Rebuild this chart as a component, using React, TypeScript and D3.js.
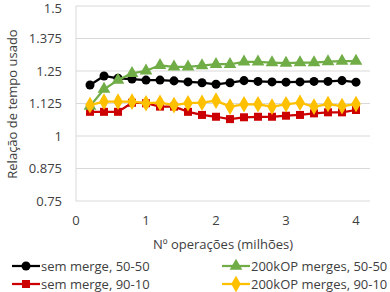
import React from 'react';
import * as d3 from 'd3';

const xs = [0.2, 0.4, 0.6, 0.8, 1.0, 1.2, 1.4, 1.6, 1.8, 2.0, 2.2, 2.4, 2.6, 2.8, 3.0, 3.2, 3.4, 3.6, 3.8, 4.0];
const semMerge5050 = [1.196, 1.231, 1.222, 1.219, 1.215, 1.215, 1.212, 1.208, 1.205, 1.199, 1.205, 1.213, 1.210, 1.208, 1.207, 1.208, 1.210, 1.210, 1.213, 1.207];
const semMerge9010 = [1.093, 1.093, 1.093, 1.128, 1.126, 1.113, 1.113, 1.093, 1.081, 1.074, 1.065, 1.072, 1.074, 1.074, 1.078, 1.081, 1.087, 1.091, 1.091, 1.100];
const merges5050 = [1.115, 1.180, 1.215, 1.241, 1.251, 1.272, 1.266, 1.266, 1.271, 1.276, 1.276, 1.285, 1.285, 1.282, 1.280, 1.282, 1.282, 1.286, 1.288, 1.288];
const merges9010 = [1.119, 1.132, 1.132, 1.132, 1.126, 1.128, 1.119, 1.126, 1.128, 1.136, 1.113, 1.122, 1.122, 1.113, 1.122, 1.128, 1.113, 1.123, 1.115, 1.123];
const yTicks = [0.75, 0.875, 1, 1.125, 1.25, 1.375, 1.5];
const xTicks = [0, 1, 2, 3, 4];

const series = [
  { name: 'sem merge, 50-50', values: semMerge5050, color: '#000000', marker: 'circle' },
  { name: 'sem merge, 90-10', values: semMerge9010, color: '#cc0000', marker: 'square' },
  { name: '200kOP merges, 50-50', values: merges5050, color: '#70ad47', marker: 'triangle' },
  { name: '200kOP merges, 90-10', values: merges9010, color: '#ffc000', marker: 'diamond' },
];

const font = "'Open Sans', 'Noto Sans', sans-serif";

const symbols: Record<string, [d3.SymbolType, number]> = {
  circle: [d3.symbolCircle, 64],
  square: [d3.symbolSquare, 64],
  triangle: [d3.symbolTriangle, 70],
  diamond: [d3.symbolDiamond, 80],
};

function Marker({ type, color, x, y }: { type: string; color: string; x: number; y: number }) {
  const [t, s] = symbols[type];
  const path = d3.symbol().type(t).size(s)() || '';
  return <path d={path} transform={`translate(${x},${y})`} fill={color} />;
}

export default function App() {
  const width = 390;
  const height = 292;
  const x = d3.scaleLinear().domain([0, 4.2]).range([76, 370]);
  const y = d3.scaleLinear().domain([0.75, 1.5]).range([201, 6]);
  const line = d3.line<number>().x((_, i) => x(xs[i])).y(d => y(d));

  return (
    <svg width={width} height={height} style={{ position: 'absolute', left: 0, top: 0 }} fontFamily={font}>
      <rect width={width} height={height} fill="#fff" />
      {yTicks.map(t => (
        <g key={t}>
          <line x1={76} x2={370} y1={y(t)} y2={y(t)} stroke="#d9d9d9" strokeWidth={1} />
          <text x={62} y={Math.max(y(t), 8)} dy="0.35em" textAnchor="end" fontSize={13} fill="#404040">{t}</text>
        </g>
      ))}
      <line x1={76} x2={76} y1={6} y2={201} stroke="#d9d9d9" />
      {xTicks.map(t => (
        <text key={t} x={x(t)} y={220} dy="0.35em" textAnchor="middle" fontSize={13} fill="#404040">{t}</text>
      ))}
      <text x={223} y={244} dy="0.35em" textAnchor="middle" fontSize={13} fill="#404040">Nº operações (milhões)</text>
      <text transform={`translate(12,104) rotate(-90)`} dy="0.35em" textAnchor="middle" fontSize={13} fill="#404040">Relação de tempo usado</text>
      {series.map(s => (
        <g key={s.name}>
          <path d={line(s.values) || ''} fill="none" stroke={s.color} strokeWidth={2.25} strokeLinejoin="round" />
          {s.values.map((v, i) => (
            <Marker key={i} type={s.marker} color={s.color} x={x(xs[i])} y={y(v)} />
          ))}
        </g>
      ))}
      {series.map((s, i) => {
        const lx = i < 2 ? 12 : 222;
        const ly = i % 2 === 0 ? 266 : 284;
        return (
          <g key={s.name}>
            <line x1={lx} x2={lx + 28} y1={ly} y2={ly} stroke={s.color} strokeWidth={2.25} />
            <Marker type={s.marker} color={s.color} x={lx + 14} y={ly} />
            <text x={lx + 29} y={ly} dy="0.35em" fontSize={13} fill="#404040">{s.name}</text>
          </g>
        );
      })}
    </svg>
  );
}
